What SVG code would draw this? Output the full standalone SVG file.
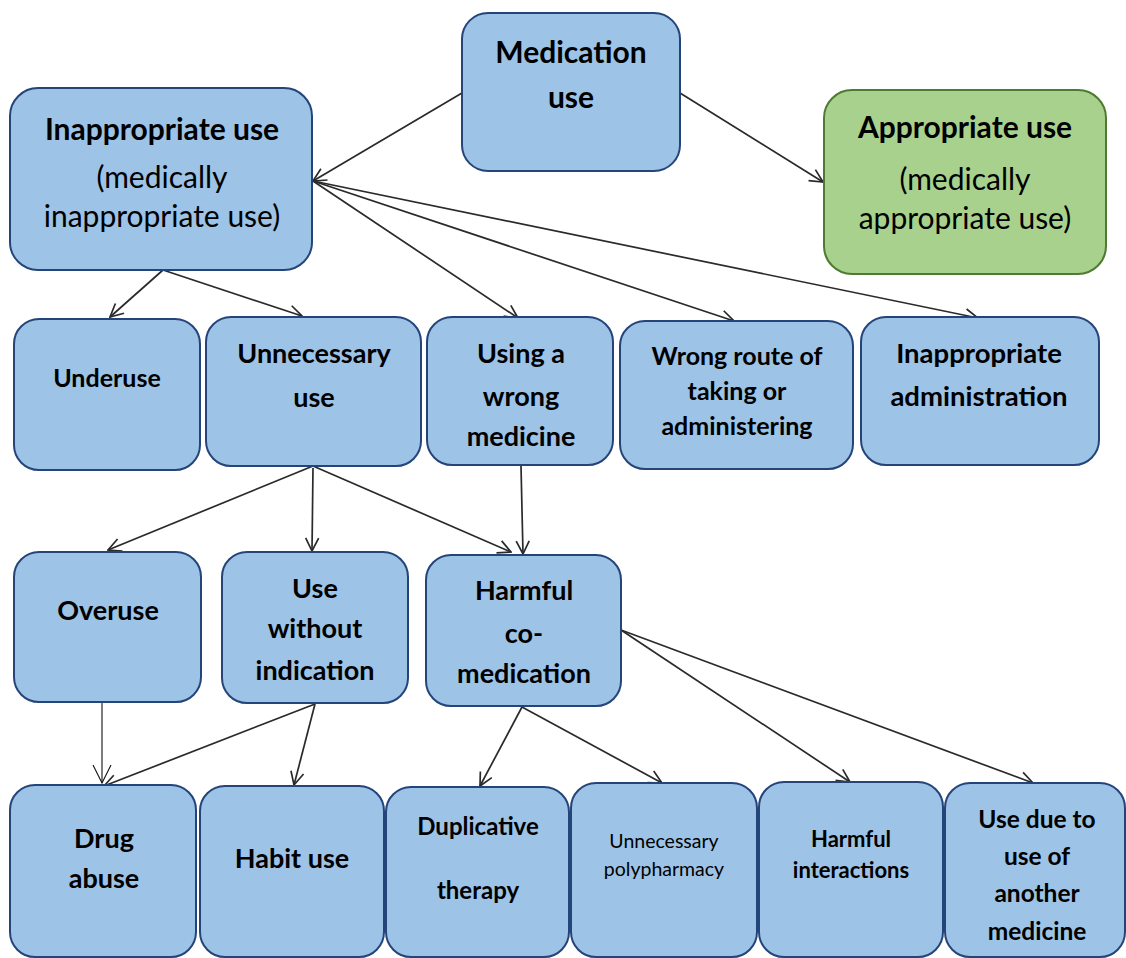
<svg xmlns="http://www.w3.org/2000/svg" width="1126" height="958" viewBox="0 0 1126 958">
<defs>
<style>
.b{fill:#9DC3E6;stroke:#24447A;stroke-width:2}
.g{fill:#A9D18E;stroke:#4E7A32;stroke-width:2}
text{font-family:Lato,"Open Sans","Liberation Sans",sans-serif;fill:#000;text-anchor:middle}
.bd{font-weight:bold}
.rg{font-weight:normal}
.c{stroke:#2a2a2a;stroke-width:1.7;fill:none}
</style>
<marker id="ah" viewBox="0 0 15 15" refX="14" refY="7.5" markerWidth="15" markerHeight="15" markerUnits="userSpaceOnUse" orient="auto">
<path d="M1,1 L14,7.5 L1,14" fill="none" stroke="#2a2a2a" stroke-width="1.7"/>
</marker>
<marker id="ah2" viewBox="0 0 20 20" refX="19" refY="10" markerWidth="20" markerHeight="20" markerUnits="userSpaceOnUse" orient="auto">
<path d="M1,1 L19,10 L1,19" fill="none" stroke="#111" stroke-width="1.1"/>
</marker>
</defs>
<rect width="1126" height="958" fill="#fff"/>
<g id="connectors">
<line class="c" x1="462" y1="93" x2="313" y2="181" marker-end="url(#ah)"/>
<line class="c" x1="680" y1="93" x2="823" y2="182" marker-end="url(#ah)"/>
<line class="c" x1="313" y1="181" x2="518" y2="318" marker-end="url(#ah)"/>
<line class="c" x1="313" y1="181" x2="734" y2="321" marker-end="url(#ah)"/>
<line class="c" x1="313" y1="181" x2="978" y2="318" marker-end="url(#ah)"/>
<line class="c" x1="163" y1="270" x2="110" y2="317" marker-end="url(#ah)"/>
<line class="c" x1="163" y1="270" x2="302" y2="316" marker-end="url(#ah)"/>
<line class="c" x1="313" y1="466" x2="108" y2="550" marker-end="url(#ah)"/>
<line class="c" x1="313" y1="468" x2="312" y2="551" marker-end="url(#ah)"/>
<line class="c" x1="313" y1="466" x2="511" y2="552" marker-end="url(#ah)"/>
<line class="c" x1="521" y1="466" x2="523" y2="554" marker-end="url(#ah)"/>
<line x1="102" y1="702" x2="102" y2="783" stroke="#111" stroke-width="1.1" marker-end="url(#ah2)"/>
<line class="c" x1="315" y1="704" x2="104" y2="786" marker-end="url(#ah)"/>
<line class="c" x1="315" y1="704" x2="294" y2="785" marker-end="url(#ah)"/>
<line class="c" x1="522" y1="707" x2="480" y2="786" marker-end="url(#ah)"/>
<line class="c" x1="522" y1="707" x2="662" y2="783" marker-end="url(#ah)"/>
<line class="c" x1="621" y1="630" x2="850" y2="782" marker-end="url(#ah)"/>
<line class="c" x1="621" y1="630" x2="1033" y2="783" marker-end="url(#ah)"/>
</g>
<g id="n-medication">
<rect class="b" x="462" y="13" width="218" height="158" rx="26"/>
<text class="bd" x="571" y="63" font-size="30">Medication</text>
<text class="bd" x="571" y="108" font-size="30">use</text>
</g>
<g id="n-inappropriate">
<rect class="b" x="10" y="88" width="302" height="182" rx="28"/>
<text class="bd" x="162" y="140" font-size="30">Inappropriate use</text>
<text class="rg" x="162" y="188" font-size="30">(medically</text>
<text class="rg" x="162" y="227" font-size="30">inappropriate use)</text>
</g>
<g id="n-appropriate">
<rect class="g" x="824" y="90" width="282" height="184" rx="28"/>
<text class="bd" x="965" y="138" font-size="30">Appropriate use</text>
<text class="rg" x="965" y="190" font-size="30">(medically</text>
<text class="rg" x="965" y="229" font-size="30">appropriate use)</text>
</g>
<g id="n-underuse">
<rect class="b" x="14" y="319" width="186" height="151" rx="25"/>
<text class="bd" x="107" y="387" font-size="25">Underuse</text>
</g>
<g id="n-unnecessary">
<rect class="b" x="206" y="317" width="215" height="149" rx="25"/>
<text class="bd" x="314" y="363" font-size="27">Unnecessary</text>
<text class="bd" x="314" y="407" font-size="27">use</text>
</g>
<g id="n-wrongmed">
<rect class="b" x="427" y="317" width="186" height="148" rx="25"/>
<text class="bd" x="521" y="363" font-size="27">Using a</text>
<text class="bd" x="521" y="406" font-size="27">wrong</text>
<text class="bd" x="521" y="446" font-size="27">medicine</text>
</g>
<g id="n-wrongroute">
<rect class="b" x="620" y="321" width="233" height="148" rx="25"/>
<text class="bd" x="737" y="365" font-size="25">Wrong route of</text>
<text class="bd" x="737" y="400" font-size="25">taking or</text>
<text class="bd" x="737" y="435" font-size="25">administering</text>
</g>
<g id="n-inappadmin">
<rect class="b" x="861" y="317" width="238" height="148" rx="25"/>
<text class="bd" x="979" y="363" font-size="27.5">Inappropriate</text>
<text class="bd" x="979" y="406" font-size="27.5">administration</text>
</g>
<g id="n-overuse">
<rect class="b" x="14" y="552" width="187" height="150" rx="25"/>
<text class="bd" x="108" y="620" font-size="27">Overuse</text>
</g>
<g id="n-noindication">
<rect class="b" x="222" y="552" width="186" height="151" rx="25"/>
<text class="bd" x="315" y="598" font-size="27">Use</text>
<text class="bd" x="315" y="638" font-size="27">without</text>
<text class="bd" x="315" y="680" font-size="27">indication</text>
</g>
<g id="n-harmfulcomed">
<rect class="b" x="426" y="555" width="195" height="151" rx="25"/>
<text class="bd" x="524" y="600" font-size="27">Harmful</text>
<text class="bd" x="524" y="643" font-size="27">co-</text>
<text class="bd" x="524" y="683" font-size="27">medication</text>
</g>
<g id="n-drugabuse">
<rect class="b" x="10" y="785" width="186" height="172" rx="25"/>
<text class="bd" x="104" y="848" font-size="27">Drug</text>
<text class="bd" x="104" y="888" font-size="27">abuse</text>
</g>
<g id="n-habituse">
<rect class="b" x="200" y="786" width="184" height="171" rx="25"/>
<text class="bd" x="292" y="868" font-size="27">Habit use</text>
</g>
<g id="n-duplicative">
<rect class="b" x="386" y="787" width="183" height="170" rx="25"/>
<text class="bd" x="478" y="835" font-size="24">Duplicative</text>
<text class="bd" x="478" y="899" font-size="24">therapy</text>
</g>
<g id="n-polypharmacy">
<rect class="b" x="571" y="783" width="186" height="174" rx="25"/>
<text class="rg" x="664" y="848" font-size="19.5">Unnecessary</text>
<text class="rg" x="664" y="876" font-size="19.5">polypharmacy</text>
</g>
<g id="n-interactions">
<rect class="b" x="759" y="782" width="184" height="175" rx="25"/>
<text class="bd" x="851" y="847" font-size="22">Harmful</text>
<text class="bd" x="851" y="878" font-size="22">interactions</text>
</g>
<g id="n-anothermed">
<rect class="b" x="945" y="783" width="180" height="174" rx="25"/>
<text class="bd" x="1037" y="828" font-size="24.5">Use due to</text>
<text class="bd" x="1037" y="865" font-size="24.5">use of</text>
<text class="bd" x="1037" y="902" font-size="24.5">another</text>
<text class="bd" x="1037" y="940" font-size="24.5">medicine</text>
</g>
</svg>
